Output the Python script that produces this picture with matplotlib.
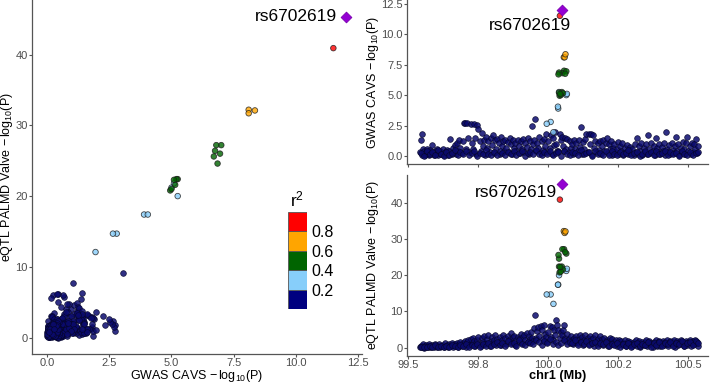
import numpy as np
import matplotlib
matplotlib.use("Agg")
import matplotlib.pyplot as plt

plt.rcParams['font.family'] = ['Liberation Sans', 'DejaVu Sans']
plt.rcParams['mathtext.fontset'] = 'custom'
plt.rcParams['mathtext.rm'] = 'Liberation Sans'
plt.rcParams['mathtext.it'] = 'Liberation Sans:italic'

# lead SNP
lead_snp = "rs6702619"
lead_pos, lead_gwas, lead_eqtl = 100.049, 12.0, 45.3

# SNPs in LD with the lead (r2 > 0.2)
hit_pos = [100.043, 100.057, 100.060, 100.063,
           100.038, 100.040, 100.052, 100.058, 100.062, 100.066,
           100.040, 100.044, 100.050, 100.054, 100.046, 100.042,
           100.040, 100.066, 100.068, 100.036, 100.037, 99.996, 100.010, 100.020]
hit_gwas = [11.5, 8.1, 8.1, 8.35,
            6.7, 6.85, 6.8, 7.0, 6.75, 6.95,
            5.2, 5.1, 5.25, 5.15, 5.0, 4.95,
            5.25, 5.0, 5.1, 4.05, 3.9, 2.65, 2.8, 1.95]
hit_eqtl = [40.9, 32.2, 31.7, 32.1,
            25.6, 24.6, 27.2, 27.2, 26.4, 26.0,
            22.4, 22.3, 22.4, 21.6, 21.0, 20.8,
            20.0, 21.2, 21.8, 17.4, 17.4, 14.7, 14.7, 12.1]
hit_r2 = [0.9, 0.7, 0.7, 0.7,
          0.5, 0.5, 0.5, 0.5, 0.5, 0.5,
          0.45, 0.45, 0.45, 0.45, 0.45, 0.45,
          0.3, 0.3, 0.3, 0.3, 0.3, 0.3, 0.3, 0.25]

# remaining SNPs (r2 < 0.2)
bg_pos = [99.545, 99.547, 99.549, 99.551, 99.553, 99.556, 99.559, 99.562, 99.565, 99.568,
          99.571, 99.574, 99.577, 99.580, 99.584, 99.588, 99.592, 99.596, 99.600, 99.604,
          99.608, 99.612, 99.616, 99.620, 99.624, 99.628, 99.632, 99.636, 99.640, 99.644,
          99.648, 99.652, 99.656, 99.660, 99.664, 99.668, 99.672, 99.676, 99.680, 99.684,
          99.688, 99.692, 99.696, 99.700,
          99.704, 99.708, 99.712, 99.716, 99.720, 99.724, 99.728, 99.732, 99.736, 99.740,
          99.744, 99.748, 99.752, 99.756, 99.760, 99.764, 99.768, 99.772, 99.776, 99.780,
          99.784, 99.788, 99.792, 99.796, 99.800, 99.804, 99.808, 99.812, 99.816, 99.820,
          99.824, 99.828, 99.832, 99.836, 99.840, 99.844, 99.848, 99.852, 99.856, 99.860,
          99.864, 99.868, 99.872, 99.876, 99.880, 99.884, 99.888, 99.892, 99.896, 99.900,
          99.904, 99.908, 99.912, 99.916, 99.920, 99.924, 99.928, 99.932, 99.936, 99.940,
          99.944, 99.948, 99.952, 99.955, 99.958, 99.962, 99.966, 99.970, 99.974, 99.978,
          99.982, 99.986, 99.990, 99.994, 99.998, 100.002, 100.006, 100.010, 100.014, 100.018,
          100.022, 100.026, 100.030, 100.034, 100.038, 100.042, 100.046, 100.050, 100.054, 100.058,
          100.062, 100.066, 100.070, 100.074, 100.078, 100.082, 100.086, 100.090, 100.094, 100.098,
          100.102, 100.106, 100.110, 100.114, 100.118, 100.122, 100.126, 100.130, 100.134, 100.138,
          100.142, 100.146, 100.150, 100.154, 100.158, 100.162, 100.166, 100.170, 100.174, 100.178,
          100.182, 100.186, 100.190, 100.194, 100.198, 100.202, 100.206, 100.210, 100.214, 100.218,
          100.222, 100.226, 100.230, 100.234, 100.238, 100.242, 100.246, 100.250, 100.254, 100.258,
          100.262, 100.266, 100.270, 100.274, 100.278, 100.282, 100.286, 100.290, 100.294, 100.298,
          100.302, 100.306, 100.310, 100.314, 100.318, 100.322, 100.326, 100.330, 100.334, 100.338,
          100.342, 100.346, 100.350, 100.354, 100.358, 100.362, 100.366, 100.370, 100.374, 100.378,
          100.382, 100.386, 100.390, 100.394, 100.398, 100.402, 100.406, 100.410, 100.414, 100.418,
          100.422, 100.426, 100.430, 100.434, 100.438, 100.442, 100.446, 100.450, 100.454, 100.458,
          100.462, 100.466, 100.470, 100.474, 100.478, 100.482, 100.486, 100.490, 100.494, 100.498,
          100.502, 100.506, 100.510, 100.514, 100.518, 100.522, 100.526, 100.530, 100.534, 100.538]
bg_gwas = [0.35, 1.30, 0.10, 1.85, 0.55, 0.20, 0.45, 0.05, 0.30, 0.60,
           0.15, 0.40, 0.08, 0.50, 0.25, 0.90, 0.12, 0.38, 0.20, 0.55,
           0.05, 0.30, 0.45, 0.18, 0.60, 0.10, 0.35, 0.25, 0.50, 0.08,
           0.40, 1.40, 0.20, 0.65, 0.30, 0.90, 0.15, 1.10, 0.45, 1.30,
           0.70, 0.25, 1.20, 2.75,
           2.72, 0.55, 2.70, 1.45, 0.30, 2.65, 1.10, 0.60, 2.60, 1.50,
           0.20, 2.55, 2.25, 1.25, 0.45, 1.90, 0.80, 1.35, 0.10, 1.60,
           0.70, 1.20, 0.35, 1.45, 0.90, 1.75, 0.25, 1.30, 0.55, 1.40,
           1.05, 0.15, 1.55, 0.80, 1.25, 0.40, 1.35, 0.65, 1.15, 0.30,
           1.45, 0.95, 0.20, 1.30, 0.70, 1.10, 0.45, 1.35, 0.85, 0.25,
           1.20, 0.60, 1.40, 0.30, 1.05, 0.75, 1.45, 0.20, 1.25, 0.55,
           2.50, 0.95, 1.35, 3.05, 0.40, 1.10, 0.70, 1.60, 0.25, 1.20,
           0.50, 1.40, 0.85, 1.80, 0.35, 1.25, 0.65, 1.70, 0.15, 1.50,
           0.90, 1.95, 1.03, 0.45, 0.45, 1.85, 1.30, 1.60, 0.80, 0.40,
           1.45, 0.55, 1.40, 0.30, 1.20, 0.70, 1.00, 0.20, 1.35, 0.60,
           1.10, 0.40, 1.30, 0.75, 2.35, 0.20, 1.15, 0.55, 1.40, 1.80,
           0.30, 1.85, 0.95, 1.80, 0.10, 1.75, 0.65, 1.20, 0.35, 1.05,
           0.50, 1.25, 0.15, 0.85, 1.35, 0.40, 1.10, 1.50, 0.25, 0.95,
           0.60, 1.20, 0.05, 0.70, 1.00, 0.30, 0.55, 1.15, 0.20, 0.80,
           0.45, 1.05, 0.10, 0.65, 0.35, 0.90, 0.15, 0.50, 0.75, 0.25,
           0.60, 0.10, 1.00, 0.35, 1.50, 0.20, 0.80, 0.45, 1.10, 0.05,
           0.70, 0.30, 0.95, 0.15, 1.70, 0.55, 0.25, 1.05, 0.40, 0.85,
           0.10, 1.50, 0.65, 0.30, 1.00, 0.20, 0.75, 0.45, 1.10, 0.05,
           1.95, 0.60, 0.35, 0.90, 0.15, 1.05, 0.50, 0.25, 0.80, 1.60,
           0.40, 1.00, 0.10, 0.70, 0.30, 1.15, 0.55, 0.20, 1.05, 1.60,
           0.45, 0.85, 0.15, 1.10, 0.35, 0.95, 0.60, 1.40, 0.25, 0.80]
bg_eqtl = [0.1, 0.4, 0.6, 0.2, 0.9, 0.3, 0.0, 0.5, 0.8, 0.2,
           0.4, 1.1, 0.1, 0.6, 0.3, 0.7, 0.2, 0.9, 0.4, 0.1,
           0.6, 1.0, 0.3, 0.5, 0.8, 0.2, 1.2, 0.4, 0.7, 0.1,
           0.9, 0.5, 1.3, 0.3, 0.8, 1.1, 0.6, 1.4, 0.2, 0.9,
           1.6, 0.4, 1.2, 1.0,
           1.8, 0.3, 1.5, 2.1, 0.7, 2.4, 1.0, 2.8, 1.9, 0.6,
           1.4, 2.2, 3.0, 1.1, 0.4, 2.6, 1.7, 3.2, 0.9, 1.3,
           2.4, 3.5, 0.6, 1.9, 2.9, 1.2, 2.0, 3.4, 0.8, 2.5,
           1.6, 3.0, 0.7, 2.2, 3.6, 1.4, 2.7, 0.9, 3.1, 1.9,
           2.4, 4.1, 1.2, 2.9, 3.3, 0.8, 2.1, 3.0, 1.5, 2.6,
           3.8, 1.3, 2.9, 3.5, 2.2, 4.0, 1.6, 3.1, 2.5, 4.3,
           2.7, 1.8, 5.5, 9.1, 2.7, 4.6, 5.8, 3.2, 6.1, 4.9,
           2.4, 6.3, 3.7, 2.9, 1.5, 4.4, 6.0, 3.0, 5.6, 2.2,
           4.8, 3.6, 7.7, 6.2, 5.0, 2.8, 4.2, 3.4, 4.8, 6.2,
           2.6, 1.9, 3.8, 2.3, 1.4, 3.1, 2.0, 0.9, 2.7, 1.6,
           3.3, 1.2, 2.5, 3.6, 1.8, 2.9, 0.7, 2.2, 3.4, 1.5,
           2.6, 0.9, 3.1, 2.0, 1.3, 2.8, 0.5, 3.5, 1.8, 2.4,
           1.0, 3.2, 1.6, 2.3, 0.8, 2.7, 1.4, 2.1, 0.6, 1.9,
           2.8, 1.2, 2.4, 0.9, 1.7, 2.2, 0.4, 1.5, 2.0, 1.1,
           1.8, 0.7, 1.4, 2.1, 0.5, 1.3, 1.9, 0.8, 1.5, 1.1,
           0.4, 1.6, 1.0, 2.0, 0.6, 1.3, 1.8, 0.2, 1.1, 1.7,
           0.8, 1.5, 2.0, 0.5, 1.2, 1.9, 0.9, 1.4, 0.3, 1.7,
           1.1, 2.0, 0.6, 1.5, 1.8, 0.4, 1.2, 1.9, 0.8, 1.6,
           1.1, 2.0, 0.5, 1.4, 1.8, 0.9, 1.6, 2.1, 0.3, 1.3,
           1.9, 0.7, 1.5, 2.0, 1.0, 1.7, 0.4, 1.4, 1.9, 0.8,
           1.6, 2.1, 0.6, 1.3, 1.8, 0.9, 2.0, 1.2, 1.7, 0.5]

# low-signal SNPs that make up the dense floor of both locus plots
floor_pos = [99.548, 99.558, 99.568, 99.578, 99.588, 99.598, 99.608, 99.618, 99.628, 99.638,
             99.648, 99.658, 99.668, 99.678, 99.688, 99.698, 99.708, 99.718, 99.728, 99.738,
             99.748, 99.758, 99.768, 99.778, 99.788, 99.798, 99.808, 99.818, 99.828, 99.838,
             99.848, 99.858, 99.868, 99.878, 99.888, 99.898, 99.908, 99.918, 99.928, 99.938,
             99.948, 99.958, 99.968, 99.978, 99.988, 99.998, 100.008, 100.018, 100.028, 100.038,
             100.048, 100.058, 100.068, 100.078, 100.088, 100.098, 100.108, 100.118, 100.128, 100.138,
             100.148, 100.158, 100.168, 100.178, 100.188, 100.198, 100.208, 100.218, 100.228, 100.238,
             100.248, 100.258, 100.268, 100.278, 100.288, 100.298, 100.308, 100.318, 100.328, 100.338,
             100.348, 100.358, 100.368, 100.378, 100.388, 100.398, 100.408, 100.418, 100.428, 100.438,
             100.448, 100.458, 100.468, 100.478, 100.488, 100.498, 100.508, 100.518, 100.528, 100.536]
floor_gwas = [0.22, 0.04, 0.41, 0.15, 0.30, 0.08, 0.46, 0.19, 0.02, 0.35,
              0.12, 0.27, 0.49, 0.06, 0.33, 0.17, 0.44, 0.09, 0.25, 0.38,
              0.03, 0.29, 0.14, 0.47, 0.21, 0.07, 0.36, 0.11, 0.42, 0.24,
              0.05, 0.31, 0.18, 0.45, 0.10, 0.28, 0.39, 0.01, 0.23, 0.34,
              0.13, 0.48, 0.20, 0.06, 0.37, 0.16, 0.43, 0.09, 0.26, 0.32,
              0.04, 0.40, 0.19, 0.11, 0.35, 0.27, 0.08, 0.46, 0.14, 0.22,
              0.30, 0.03, 0.41, 0.17, 0.25, 0.07, 0.38, 0.12, 0.44, 0.21,
              0.05, 0.33, 0.15, 0.28, 0.47, 0.10, 0.24, 0.36, 0.02, 0.19,
              0.42, 0.13, 0.31, 0.06, 0.39, 0.18, 0.26, 0.45, 0.09, 0.34,
              0.16, 0.29, 0.04, 0.40, 0.21, 0.12, 0.37, 0.08, 0.23, 0.30]
floor_eqtl = [0.05, 0.30, 0.12, 0.55, 0.20, 0.70, 0.08, 0.40, 0.25, 0.60,
              0.15, 0.85, 0.35, 0.10, 0.65, 0.45, 0.95, 0.25, 0.75, 0.50,
              1.10, 0.30, 0.90, 0.60, 1.30, 0.40, 1.00, 1.60, 0.70, 1.20,
              0.50, 1.80, 0.90, 1.40, 0.60, 2.00, 1.10, 0.80, 1.70, 1.30,
              0.90, 2.20, 1.50, 0.70, 1.90, 1.20, 2.40, 1.00, 1.60, 0.80,
              1.40, 2.10, 0.90, 1.70, 1.20, 2.00, 0.80, 1.50, 1.10, 1.80,
              0.70, 1.30, 1.60, 0.50, 1.20, 0.90, 1.50, 0.40, 1.10, 0.80,
              1.30, 0.30, 1.00, 0.60, 1.20, 0.20, 0.90, 1.40, 0.50, 1.10,
              0.70, 1.60, 0.30, 1.20, 0.80, 1.50, 0.40, 1.30, 1.00, 1.70,
              0.60, 1.40, 0.90, 1.80, 0.50, 1.20, 1.60, 0.80, 1.90, 1.30]

# r2 legend
r2_breaks = [0.2, 0.4, 0.6, 0.8]
r2_colors = ["navy", "lightskyblue", "darkgreen", "orange", "red"]

gwas_label = "GWAS CAVS $\\mathregular{-\\,log_{10}(P)}$"
eqtl_label = "eQTL PALMD Valve $\\mathregular{-\\,log_{10}(P)}$"
tick_grey = "#4d4d4d"
title_size = 9

low_pos = bg_pos + floor_pos
low_gwas = bg_gwas + floor_gwas
low_eqtl = bg_eqtl + floor_eqtl


def r2_color(r2):
    return r2_colors[int(np.searchsorted(r2_breaks, r2))]


def style_axis(ax):
    for side in ["top", "right"]:
        ax.spines[side].set_visible(False)
    for side in ["left", "bottom"]:
        ax.spines[side].set_color("#555555")
        ax.spines[side].set_linewidth(0.9)
    ax.tick_params(colors="#555555", labelcolor=tick_grey, labelsize=8, length=2.2, width=0.8, pad=1.0)


def draw_points(ax, x_bg, y_bg, x_hit, y_hit, x_lead, y_lead):
    ax.scatter(x_bg, y_bg, s=17, c="#0b0b6e", edgecolors="#05052a", linewidths=0.5, alpha=0.85, zorder=2)
    # plot from weakest to strongest LD so the strong ones sit on top
    order = np.argsort(hit_r2)
    cols = [r2_color(hit_r2[i]) for i in order]
    ax.scatter(np.array(x_hit)[order], np.array(y_hit)[order], s=16, c=cols,
               edgecolors="#1a1a1a", linewidths=0.6, alpha=0.8, zorder=3)
    ax.scatter([x_lead], [y_lead], s=30, marker="D", c="#9400D3", edgecolors="#7a00b0",
               linewidths=0.6, zorder=4)


fig = plt.figure(figsize=(7.18, 3.83), dpi=100)
W, H = 718.0, 383.0

# left: GWAS vs eQTL
ax_l = fig.add_axes([32 / W, 29 / H, 330 / W, 354 / H])
draw_points(ax_l, low_gwas, low_eqtl, hit_gwas, hit_eqtl, lead_gwas, lead_eqtl)
ax_l.set_xlim(-0.6, 12.65)
ax_l.set_ylim(-2.3, 47.7)
ax_l.set_xticks([0, 2.5, 5, 7.5, 10, 12.5])
ax_l.set_xticklabels(["0.0", "2.5", "5.0", "7.5", "10.0", "12.5"])
ax_l.set_yticks([0, 10, 20, 30, 40])
ax_l.set_xlabel(gwas_label, fontsize=title_size)
ax_l.set_ylabel(eqtl_label, fontsize=title_size)
ax_l.xaxis.set_label_coords(0.5, -13.5 / 354)
ax_l.yaxis.set_label_coords(-17 / 330, 0.5)
style_axis(ax_l)
ax_l.text(lead_gwas - 0.35, lead_eqtl, lead_snp, fontsize=12.5, ha="right", va="center")

# right top: GWAS locus
ax_t = fig.add_axes([407 / W, 219 / H, 301 / W, 164 / H])
draw_points(ax_t, low_pos, low_gwas, hit_pos, hit_gwas, lead_pos, lead_gwas)
ax_t.set_xlim(99.497, 100.572)
ax_t.set_ylim(-0.65, 12.8)
ax_t.set_xticks([99.5, 99.75, 100.0, 100.25, 100.5])
ax_t.set_xticklabels([])
ax_t.set_yticks([0, 2.5, 5, 7.5, 10, 12.5])
ax_t.set_yticklabels(["0.0", "2.5", "5.0", "7.5", "10.0", "12.5"])
ax_t.set_ylabel(gwas_label, fontsize=title_size)
ax_t.yaxis.set_label_coords(-26 / 301, 0.5)
style_axis(ax_t)
ax_t.annotate(lead_snp, xy=(lead_pos, lead_gwas), xytext=(99.936, 10.7),
              fontsize=12.5, ha="center", va="center",
              arrowprops=dict(arrowstyle="-", color="black", lw=0.6, shrinkA=8, shrinkB=2))

# right bottom: eQTL locus
ax_b = fig.add_axes([407 / W, 27 / H, 301 / W, 181 / H])
draw_points(ax_b, low_pos, low_eqtl, hit_pos, hit_eqtl, lead_pos, lead_eqtl)
ax_b.set_xlim(99.497, 100.572)
ax_b.set_ylim(-2.3, 47.7)
ax_b.set_xticks([99.5, 99.75, 100.0, 100.25, 100.5])
ax_b.set_xticklabels(["99.5", "99.8", "100.0", "100.2", "100.5"])
ax_b.set_yticks([0, 10, 20, 30, 40])
ax_b.set_xlabel("chr1 (Mb)", fontsize=9.2, fontweight="bold")
ax_b.set_ylabel(eqtl_label, fontsize=title_size)
ax_b.xaxis.set_label_coords(0.5, -14 / 181)
ax_b.yaxis.set_label_coords(-26 / 301, 0.5)
style_axis(ax_b)
ax_b.text(99.886, 42.8, lead_snp, fontsize=12.5, ha="center", va="center")

# r2 colour key
ax_k = fig.add_axes([288 / W, 74 / H, 19 / W, 97 / H])
bottoms = [0.0] + r2_breaks
ax_k.bar(0, 0.2, bottom=bottoms, width=1, color=r2_colors, edgecolor="#555555", linewidth=0.6)
ax_k.set_xlim(-0.5, 0.5)
ax_k.set_ylim(0, 1)
ax_k.set_xticks([])
ax_k.yaxis.tick_right()
ax_k.set_yticks(r2_breaks)
ax_k.set_yticklabels([f"{b:.1f}" for b in r2_breaks])
ax_k.tick_params(axis="y", length=0, labelsize=11.5, pad=3)
for side in ax_k.spines.values():
    side.set_visible(False)
ax_k.set_title("r$^2$", fontsize=12.5, pad=4)

fig.savefig("out.png", dpi=100)
